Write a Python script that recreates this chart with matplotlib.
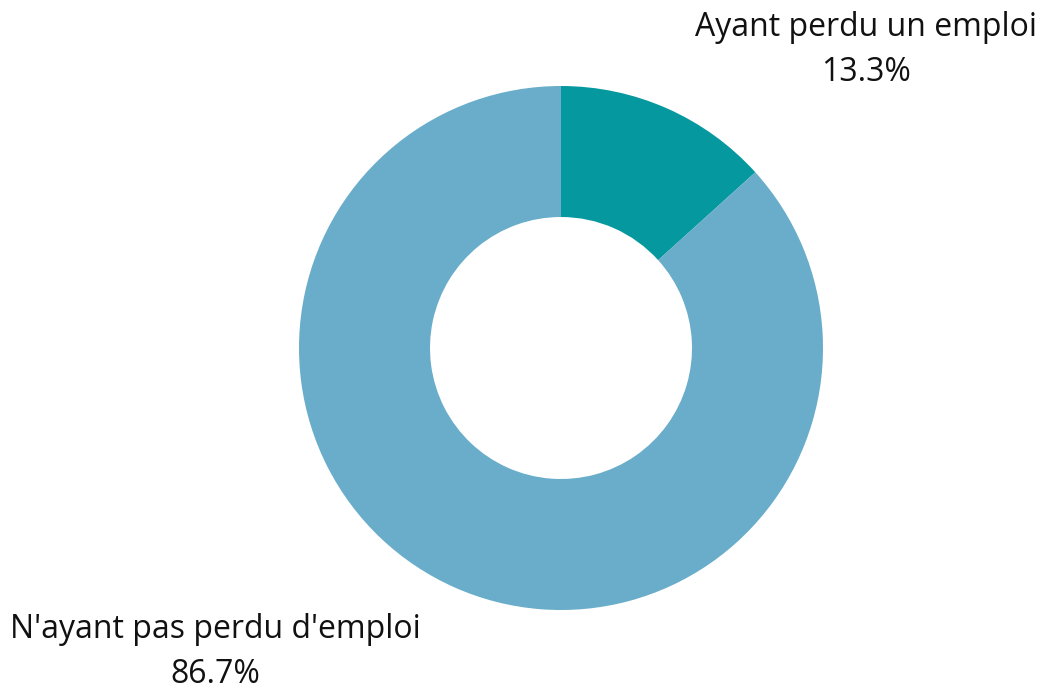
import matplotlib
matplotlib.use("Agg")
import matplotlib.pyplot as plt

categories = ["Ayant perdu un emploi", "N'ayant pas perdu d'emploi"]
values = [13.3, 86.7]
colors = ["#05989e", "#69adca"]

plt.rcParams['font.family'] = ['Open Sans', 'DejaVu Sans']

W, H = 1041, 689
fig = plt.figure(figsize=(W / 100, H / 100), dpi=100)
ax = fig.add_axes([0, 0, 1, 1])

cx, cy, R = 561, 348, 262
ax.pie(values, colors=colors, startangle=-90, counterclock=True,
       center=(cx, cy), radius=R, wedgeprops=dict(width=R * 0.5, linewidth=0),
       frame=True)
ax.set_xlim(0, W)
ax.set_ylim(H, 0)
ax.set_aspect('equal')
ax.axis('off')

label_pos = [(866, 50), (215, 652)]
for cat, v, (x, y) in zip(categories, values, label_pos):
    ax.text(x, y, f"{cat}\n{v:.1f}%", ha='center', va='center', fontsize=23,
            color='#111111', linespacing=1.48)

fig.savefig("out.png", dpi=100)
